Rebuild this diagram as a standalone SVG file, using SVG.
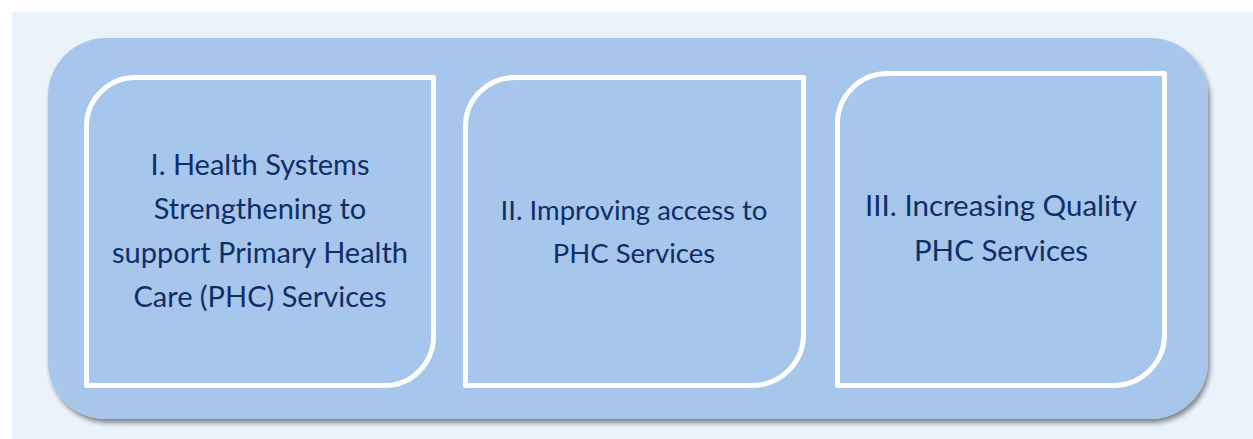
<svg xmlns="http://www.w3.org/2000/svg" width="1253" height="439" viewBox="0 0 1253 439">
  <defs>
    <filter id="panelShadow" x="-5%" y="-10%" width="110%" height="125%">
      <feGaussianBlur in="SourceAlpha" stdDeviation="2.5"/>
      <feOffset dx="2" dy="4" result="blur"/>
      <feComponentTransfer><feFuncA type="linear" slope="0.45"/></feComponentTransfer>
      <feMerge><feMergeNode/><feMergeNode in="SourceGraphic"/></feMerge>
    </filter>
    <style>
      .panel { fill: #A7C6EC; }
      .box { fill: #A7C6EC; stroke: #FFFFFF; stroke-width: 5; stroke-linejoin: round; }
      .label { font-family: Lato, "Open Sans", "Liberation Sans", sans-serif; font-size: 28px; fill: #0E2F66; text-anchor: middle; }
    </style>
  </defs>

  <!-- page background -->
  <rect x="0" y="0" width="1253" height="439" fill="#FFFFFF"/>
  <rect x="12" y="12" width="1241" height="427" fill="#EAF2FB"/>

  <!-- outer container -->
  <rect class="panel" x="48" y="38" width="1160" height="381" rx="58" ry="58" filter="url(#panelShadow)"/>

  <g id="node-health-systems">
    <path class="box" d="M86.5,126.5 A49,49 0 0 1 135.5,77.5 L433.5,77.5 L433.5,336.5 A49,49 0 0 1 384.5,385.5 L86.5,385.5 Z"/>
    <text class="label" x="260" y="175" style="font-size:29px">I. Health Systems</text>
    <text class="label" x="260" y="219" style="font-size:29px">Strengthening to</text>
    <text class="label" x="260" y="263" style="font-size:29px">support Primary Health</text>
    <text class="label" x="260" y="307" style="font-size:29px">Care (PHC) Services</text>
  </g>

  <g id="node-access">
    <path class="box" d="M465.5,126.5 A49,49 0 0 1 514.5,77.5 L803.5,77.5 L803.5,334.5 A51,51 0 0 1 752.5,385.5 L465.5,385.5 Z"/>
    <text class="label" x="634" y="220" style="font-size:27.5px">II. Improving access to</text>
    <text class="label" x="634" y="263" style="font-size:27.5px">PHC Services</text>
  </g>

  <g id="node-quality">
    <path class="box" d="M837.5,123.5 A50,50 0 0 1 887.5,73.5 L1164.5,73.5 L1164.5,334.5 A51,51 0 0 1 1113.5,385.5 L837.5,385.5 Z"/>
    <text class="label" x="1001" y="216" style="font-size:29.5px">III. Increasing Quality</text>
    <text class="label" x="1001" y="261" style="font-size:29.5px">PHC Services</text>
  </g>

  <g id="connectors"></g>
</svg>
